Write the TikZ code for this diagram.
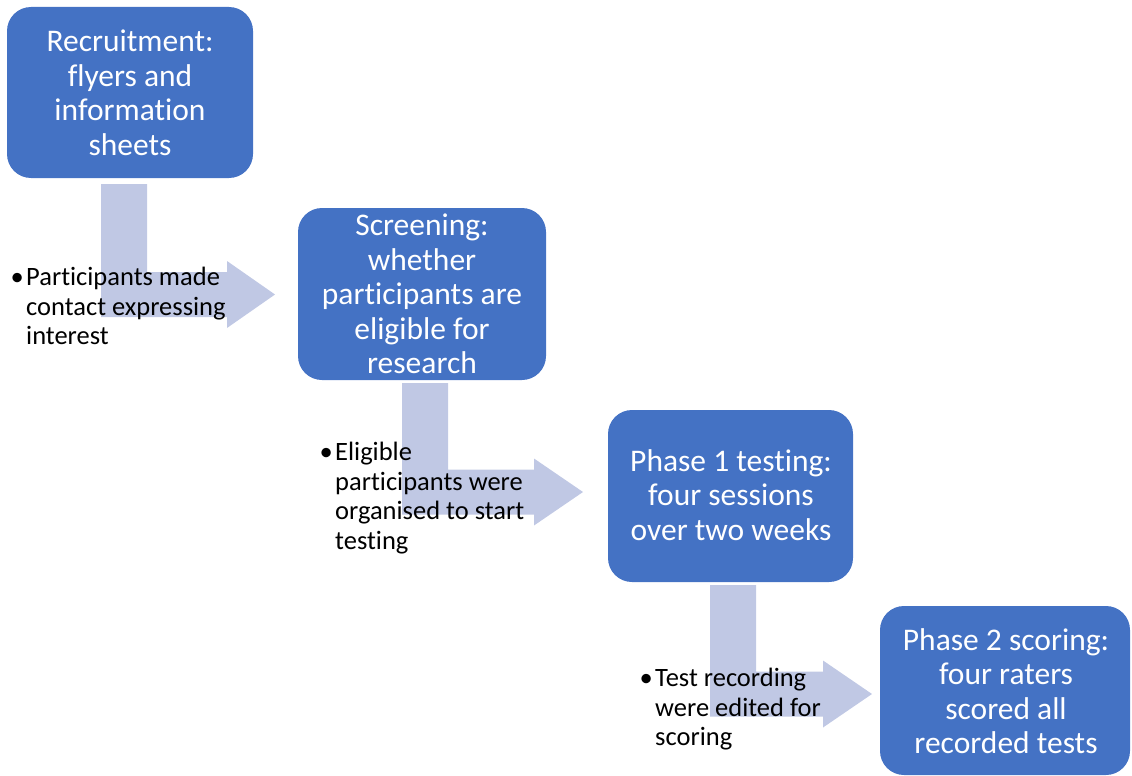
\documentclass[tikz,border=0pt]{standalone}
\usepackage{fontspec}
\setmainfont[Ligatures={NoCommon}]{Carlito}
\definecolor{stepblue}{HTML}{4472C4}
\definecolor{flowtint}{HTML}{C0C8E4}
% bent process arrow: shaft left edge, shaft top, shaft centre line y, head base x, tip x
\newcommand{\bendarrow}[5]{%
  \fill[flowtint] (#1,#2) -- ++(46,0) -- (#1+46,#3-22.5) -- (#4,#3-22.5)
    -- (#4,#3-33.5) -- (#5,#3) -- (#4,#3+33.5) -- (#4,#3+22.5)
    -- (#1,#3+22.5) -- cycle;}
\begin{document}
\begin{tikzpicture}[x=1pt,y=-1pt,
  stepbox/.style={text=white, align=center, inner sep=0pt,
    font=\fontsize{31.5}{34.5}\selectfont},
  panel/.style={fill=stepblue, rounded corners=24pt},
  note/.style={anchor=north west, align=left, inner sep=0pt,
    font=\fontsize{26.5}{29.5}\selectfont}]
\useasboundingbox (0,0) rectangle (1132,776);

% arrows behind everything
\bendarrow{101}{184}{294.5}{227}{275}
\bendarrow{402}{383}{492}{534}{583}
\bendarrow{710}{585}{694}{823}{872}

% process steps
\path (7,7) coordinate (r1a) (253,178) coordinate (r1b);
\fill[panel] (r1a) rectangle (r1b);
\node[stepbox] (recruit) at (130,93) {Recruitment:\\flyers and\\information\\sheets};

\path (298,208) coordinate (r2a) (546,380) coordinate (r2b);
\fill[panel] (r2a) rectangle (r2b);
\node[stepbox] (screen) at (422,294) {Screening:\\whether\\participants are\\eligible for\\research};

\path (608,410) coordinate (r3a) (853,582) coordinate (r3b);
\fill[panel] (r3a) rectangle (r3b);
\node[stepbox] (phaseone) at (731,495) {Phase 1 testing:\\four sessions\\over two weeks};

\path (880,606) coordinate (r4a) (1130,775) coordinate (r4b);
\fill[panel] (r4a) rectangle (r4b);
\node[stepbox] (phasetwo) at (1006,691) {Phase 2 scoring:\\four raters\\scored all\\recorded tests};

% transition notes
\node[note] (noteone) at (26,267) {\llap{•\hspace{2.5pt}}Participants made\\contact expressing\\interest};
\node[note] (notetwo) at (335,442) {\llap{•\hspace{2.5pt}}Eligible\\participants were\\organised to start\\testing};
\node[note] (notethree) at (655,668) {\llap{•\hspace{2.5pt}}Test recording\\were edited for\\scoring};
\end{tikzpicture}
\end{document}
